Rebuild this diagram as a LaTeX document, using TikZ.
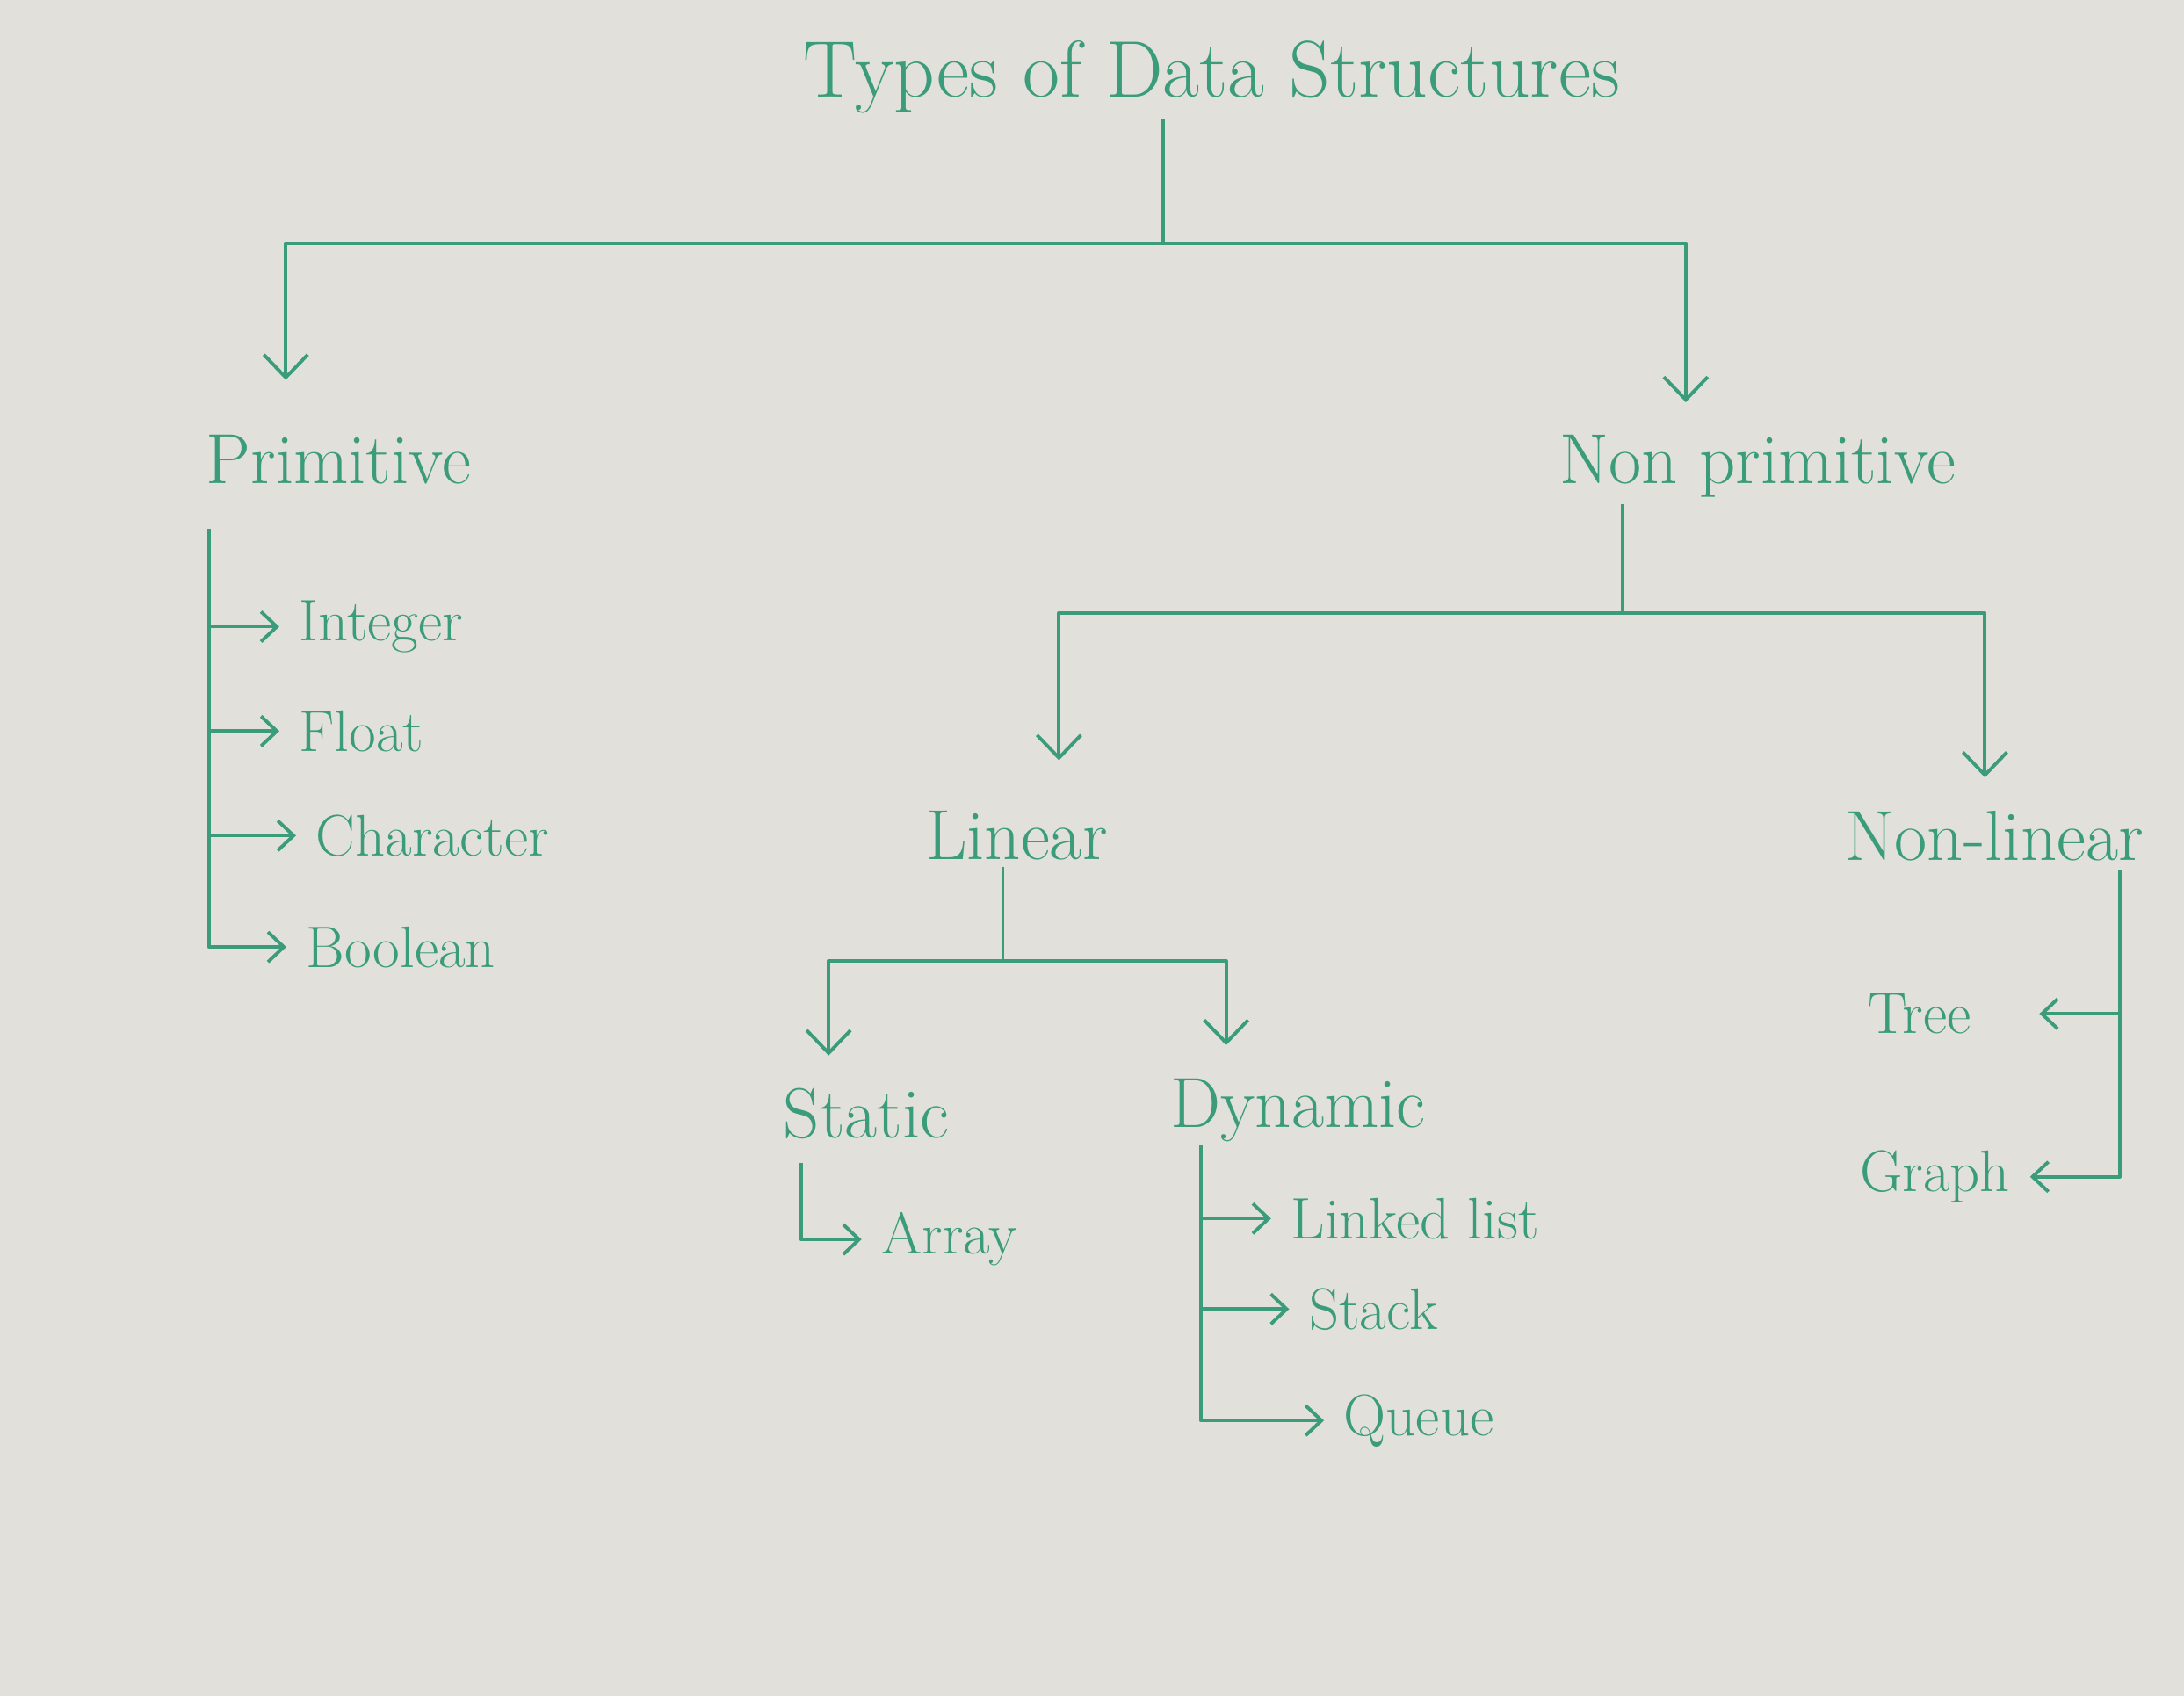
\documentclass[tikz,border=0pt]{standalone}
\usepackage{xcolor}
\usepackage{tikz}
\usetikzlibrary{arrows.meta, positioning, calc}

\definecolor{board}{RGB}{226,224,218}
\definecolor{marker}{RGB}{58,156,122}

\begin{document}
\begin{tikzpicture}[
      x=0.15855mm, y=-0.15855mm,
      lbl/.style={text=marker, inner sep=2pt},
      title/.style={lbl, font=\fontsize{26}{30}\selectfont},
      head/.style={lbl, font=\fontsize{23}{27}\selectfont},
      leaf/.style={lbl, font=\fontsize{19}{23}\selectfont, anchor=west},
      wire/.style={draw=marker, line width=1.1pt, line join=round},
      flow/.style={wire, -{Straight Barb[length=2.6mm, width=5mm]}, shorten >=3mm},
      sub/.style={wire, -{Straight Barb[length=1.8mm, width=3.4mm]}, shorten >=1.5mm}]
    \fill[board] (0,0) rectangle (1568,1218);
    \node[title] (title) at (870,55) {Types of Data Structures};
    \node[head] (prim) at (243,330) {Primitive};
    \node[head] (nprim) at (1262,335) {Non primitive};
    \node[head] (lin) at (730,600) {Linear};
    \node[head] (nlin) at (1432,600) {Non-linear};
    \node[head] (stat) at (622,800) {Static};
    \node[head] (dyn) at (932,797) {Dynamic};
    % primitive types
    \node[leaf] (int) at (210,450) {Integer};
    \node[leaf] (flt) at (210,525) {Float};
    \node[leaf] (chr) at (222,600) {Character};
    \node[leaf] (bln) at (215,680) {Boolean};
    % linear ones
    \node[leaf] (arr) at (628,890) {Array};
    \node[leaf] (lnk) at (922,875) {Linked list};
    \node[leaf] (stk) at (935,940) {Stack};
    \node[leaf] (que) at (960,1020) {Queue};
    % non-linear ones
    \node[leaf, anchor=east] (tree) at (1420,728) {Tree};
    \node[leaf, anchor=east] (graph) at (1448,845) {Graph};
    % junctions and spines
    \coordinate (j1) at (835,175);
    \coordinate (j2) at (1165,440);
    \coordinate (j3) at (720,690);
    \coordinate (pspine) at (150,380);
    \coordinate (sspine) at (575,835);
    \coordinate (dspine) at (862,822);
    \coordinate (nspine) at (1522,625);
    % edges
    \draw[wire] (title.south -| j1) -- (j1);
    \draw[flow, shorten >=5.5mm] (j1) -| ([xshift=-6mm]prim.north);
    \draw[flow] (j1) -| ([xshift=-8.2mm]nprim.north);
    \draw[wire] (nprim.south -| j2) -- (j2);
    \draw[flow, shorten >=5mm] (j2) -| ([xshift=4.8mm]lin.north);
    \draw[flow] (j2) -| ([xshift=-1.1mm]nlin.north);
    \draw[wire] (lin.south -| j3) -- (j3);
    \draw[flow] (j3) -| ([xshift=-4.3mm]stat.north);
    \draw[flow] (j3) -| ([xshift=-8.2mm]dyn.north);
    \foreach \n in {int,flt,chr,bln}
      \draw[sub] (pspine) |- (\n.west);
    \draw[sub] (sspine) |- (arr.west);
    \foreach \n in {lnk,stk,que}
      \draw[sub] (dspine) |- (\n.west);
    \draw[sub, shorten >=7mm] (nspine) |- (tree.east);
    \draw[sub] (nspine) |- (graph.east);
  \end{tikzpicture}
\end{document}
